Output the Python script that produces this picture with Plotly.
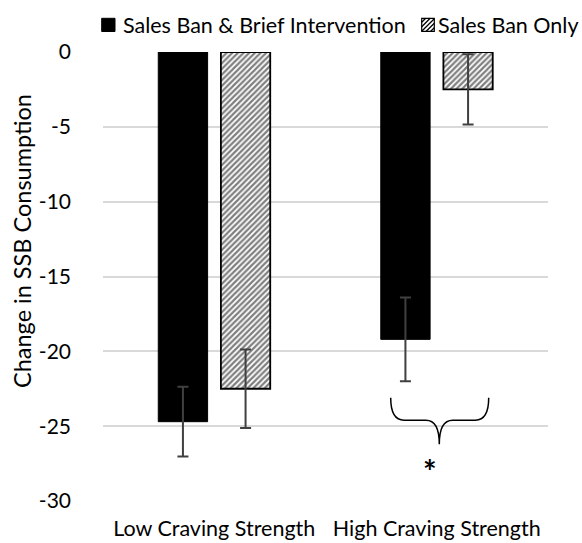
import plotly.graph_objects as go

categories = ["Low Craving Strength", "High Craving Strength"]
series_names = ["Sales Ban & Brief Intervention", "Sales Ban Only"]
brief_vals = [-24.7, -19.2]
brief_err = [2.33, 2.8]
only_vals = [-22.5, -2.5]
only_err = [2.63, 2.35]
y_ticks = [0, -5, -10, -15, -20, -25, -30]

FONT = "Lato"
ERR_COLOR = "#404040"

# plot-area geometry (pixels) for placing annotations/legend
L, R, T, B = 103, 548, 52, 501
W, H = R - L, B - T


def px(x):
    return (x - L) / W


def py(y):
    return (B - y) / H


fig = go.Figure()
fig.add_trace(go.Bar(
    name=series_names[0], x=categories, y=brief_vals,
    marker=dict(color="black", line=dict(color="black", width=1)),
    error_y=dict(type="data", array=brief_err, visible=True,
                 color=ERR_COLOR, thickness=2, width=5.5),
))
fig.add_trace(go.Bar(
    name=series_names[1], x=categories, y=only_vals,
    marker=dict(color="white", line=dict(color="black", width=1.8),
                pattern=dict(shape="/", fgcolor="black", bgcolor="white",
                             size=4, solidity=0.55)),
    error_y=dict(type="data", array=only_err, visible=True,
                 color=ERR_COLOR, thickness=2, width=5.5),
))

# curly brace under the high-craving group
xl, xc, xr = px(390.7), px(439.3), px(488.7)
yt, yh, yp = -23.1, -24.6, -26.2
d = 0.03
path = (f"M{xl},{yt} Q{xl},{yh} {xl+d},{yh} L{xc-d},{yh} "
        f"Q{xc},{yh} {xc},{yp} Q{xc},{yh} {xc+d},{yh} "
        f"L{xr-d},{yh} Q{xr},{yh} {xr},{yt}")
fig.add_shape(type="path", path=path, xref="paper", yref="y",
              line=dict(color="black", width=1.5))
fig.add_annotation(x=xc, xref="paper", y=-28.0, yref="y", text="<b>*</b>",
                   showarrow=False, font=dict(size=32, color="black", family=FONT))

# legend (manual, to match spacing)
fig.add_shape(type="rect", xref="paper", yref="paper",
              x0=px(101.7), x1=px(115), y0=py(31.5), y1=py(18.3),
              fillcolor="black", line=dict(color="black", width=1))
hx0, hx1, hy0, hy1 = 421.7, 434.3, 18.3, 31.3
fig.add_shape(type="rect", xref="paper", yref="paper",
              x0=px(hx0), x1=px(hx1), y0=py(hy1), y1=py(hy0),
              fillcolor="white", line=dict(color="black", width=1.2))
w, h = hx1 - hx0, hy1 - hy0
segs = []
for a in [-9.0, -4.5, 0.0, 4.5, 9.0]:
    u0, u1 = max(0.0, a), min(w, h + a)
    if u1 > u0:
        segs.append(f"M{px(hx0+u0)},{py(hy1-(u0-a))} L{px(hx0+u1)},{py(hy1-(u1-a))}")
fig.add_shape(type="path", xref="paper", yref="paper", path=" ".join(segs),
              line=dict(color="black", width=1.3))
fig.add_annotation(x=px(120.5), y=py(25), xref="paper", yref="paper",
                   xanchor="left", yanchor="middle", showarrow=False,
                   text=series_names[0], font=dict(size=21.5, color="black", family=FONT))
fig.add_annotation(x=px(435.5), y=py(25), xref="paper", yref="paper",
                   xanchor="left", yanchor="middle", showarrow=False,
                   text=series_names[1], font=dict(size=21.5, color="black", family=FONT))

# y-axis title
fig.add_annotation(x=px(22), y=py(241), xref="paper", yref="paper",
                   xanchor="center", yanchor="middle", showarrow=False, textangle=-90,
                   text="Change in SSB Consumption",
                   font=dict(size=23.5, color="black", family=FONT))

fig.update_layout(
    width=582, height=543,
    margin=dict(l=L, r=582 - R, t=T, b=543 - B, autoexpand=False),
    paper_bgcolor="white", plot_bgcolor="white",
    barmode="group", bargap=0.437, bargroupgap=0.2125,
    font=dict(family=FONT, size=21, color="black"),
    showlegend=False,
    yaxis=dict(range=[-30, 0], tickvals=y_ticks, ticktext=[str(v) for v in y_ticks],
               showgrid=True, gridcolor="#d9d9d9", gridwidth=1.5, automargin=False,
               zeroline=False, showline=False, ticks="", ticklabelstandoff=31,
               tickfont=dict(size=21)),
    xaxis=dict(showline=False, ticks="", ticklabelstandoff=12, automargin=False,
               tickfont=dict(size=21.5)),
)

fig.write_html(
    "out.html",
    config={"displayModeBar": False},
    post_script="document.body.style.margin='0';document.body.style.overflow='hidden';",
)
